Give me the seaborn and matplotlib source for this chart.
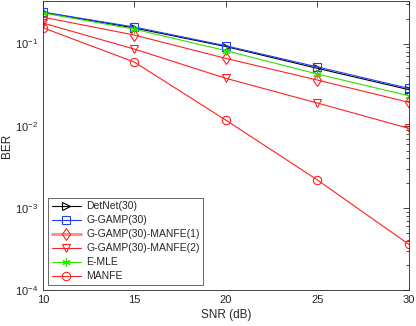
import numpy as np
import pandas as pd
import seaborn as sns
import matplotlib
matplotlib.use('Agg')
import matplotlib.pyplot as plt
from matplotlib.ticker import LogLocator, NullFormatter

# data
snr = [10, 15, 20, 25, 30]
detnet = [0.240, 0.155, 0.092, 0.050, 0.0275]
ggamp = [0.242, 0.159, 0.094, 0.052, 0.0285]
ggamp_manfe1 = [0.210, 0.127, 0.066, 0.036, 0.0193]
ggamp_manfe2 = [0.178, 0.0857, 0.0378, 0.0189, 0.0093]
emle = [0.236, 0.150, 0.082, 0.0426, 0.0232]
manfe = [0.156, 0.0596, 0.0117, 0.00219, 0.00036]

names = ['DetNet(30)', 'G-GAMP(30)', 'G-GAMP(30)-MANFE(1)',
         'G-GAMP(30)-MANFE(2)', 'E-MLE', 'MANFE']
series = [detnet, ggamp, ggamp_manfe1, ggamp_manfe2, emle, manfe]
colors = ['black', '#1f3fff', '#ff2020', '#ff2020', '#33e000', '#ff2020']
markers = ['>', 's', 'd', 'v', (6, 2, 0), 'o']
msizes = [6, 5.5, 6, 6, 6, 6]

sns.set_style('white')
plt.rcParams['font.family'] = ['Liberation Sans', 'DejaVu Sans']

fig = plt.figure(figsize=(4.16, 3.26), dpi=100)
ax = fig.add_axes([0.103, 0.110, 0.880, 0.887])

for name, vals, c, m, ms in zip(names, series, colors, markers, msizes):
    sns.lineplot(x=snr, y=vals, color=c, marker=m, markersize=ms,
                 mfc='none', mec=c, mew=0.8, lw=0.8, label=name, ax=ax)

ax.set_yscale('log')
ax.set_xlim(10, 30)
ax.set_ylim(1e-4, 0.33)
ax.set_xticks([10, 15, 20, 25, 30])
ax.yaxis.set_major_locator(LogLocator(base=10, numticks=10))
ax.yaxis.set_minor_locator(LogLocator(base=10, subs=np.arange(2, 10), numticks=10))
ax.yaxis.set_minor_formatter(NullFormatter())

ax.tick_params(which='both', direction='in', top=True, right=True,
               labelsize=8, colors='#262626', width=0.6)
ax.tick_params(which='major', length=4)
ax.tick_params(which='minor', length=2)
for s in ax.spines.values():
    s.set_color('#262626')
    s.set_linewidth(0.6)

ax.set_xlabel('SNR (dB)', fontsize=8.5, color='#262626', labelpad=3)
ax.set_ylabel('BER', fontsize=8.5, color='#262626', labelpad=1)

leg = ax.legend(loc='lower left', fontsize=7.5, frameon=True, fancybox=False,
                handlelength=2.8, handletextpad=0.5, borderaxespad=0.5,
                labelspacing=0.38, borderpad=0.35)
leg.get_frame().set_edgecolor('#262626')
leg.get_frame().set_linewidth(0.6)
# the reference draws the MANFE(1) legend line thicker and lighter
leg.get_lines()[2].set_linewidth(2.2)
leg.get_lines()[2].set_color('#ff9090')
leg.get_lines()[2].set_markeredgecolor('#ff2020')

fig.savefig('out.png', dpi=100)
